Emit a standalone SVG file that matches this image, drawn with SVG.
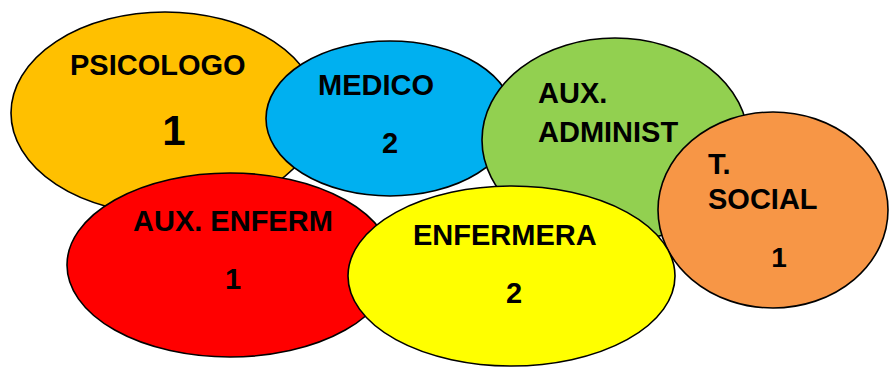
<svg xmlns="http://www.w3.org/2000/svg" width="889" height="367" viewBox="0 0 889 367">
<style>
ellipse{stroke:#000;stroke-width:1.6}
text{font-family:"Liberation Sans",Arial,sans-serif;font-weight:bold;font-size:29px;fill:#000}
.c{text-anchor:middle}
</style>
<rect width="889" height="367" fill="#fff"/>
<g id="psicologo">
<ellipse cx="165" cy="113" rx="154" ry="101" fill="#FFC000"/>
<text x="70" y="75">PSICOLOGO</text>
<text class="c" x="174" y="145" style="font-size:42px">1</text>
</g>
<g id="medico">
<ellipse cx="390" cy="118.5" rx="124" ry="77.5" fill="#00B0F0"/>
<text x="318" y="95">MEDICO</text>
<text class="c" x="390" y="153">2</text>
</g>
<g id="aux-administ">
<ellipse cx="615" cy="140" rx="133" ry="102" fill="#92D050"/>
<text x="538" y="103">AUX.</text>
<text x="538" y="142">ADMINIST</text>
</g>
<g id="t-social">
<ellipse cx="773" cy="210" rx="115" ry="98" fill="#F79646"/>
<text x="708" y="174">T.</text>
<text x="708" y="209">SOCIAL</text>
<text class="c" x="779" y="267" style="font-size:28px">1</text>
</g>
<g id="aux-enferm">
<ellipse cx="230" cy="265" rx="163" ry="92" fill="#FF0000"/>
<text x="133" y="231">AUX. ENFERM</text>
<text class="c" x="233" y="289">1</text>
</g>
<g id="enfermera">
<ellipse cx="511.5" cy="276" rx="163.5" ry="90" fill="#FFFF00"/>
<text x="413" y="245">ENFERMERA</text>
<text class="c" x="514" y="303">2</text>
</g>
<g id="connectors"></g>
</svg>
